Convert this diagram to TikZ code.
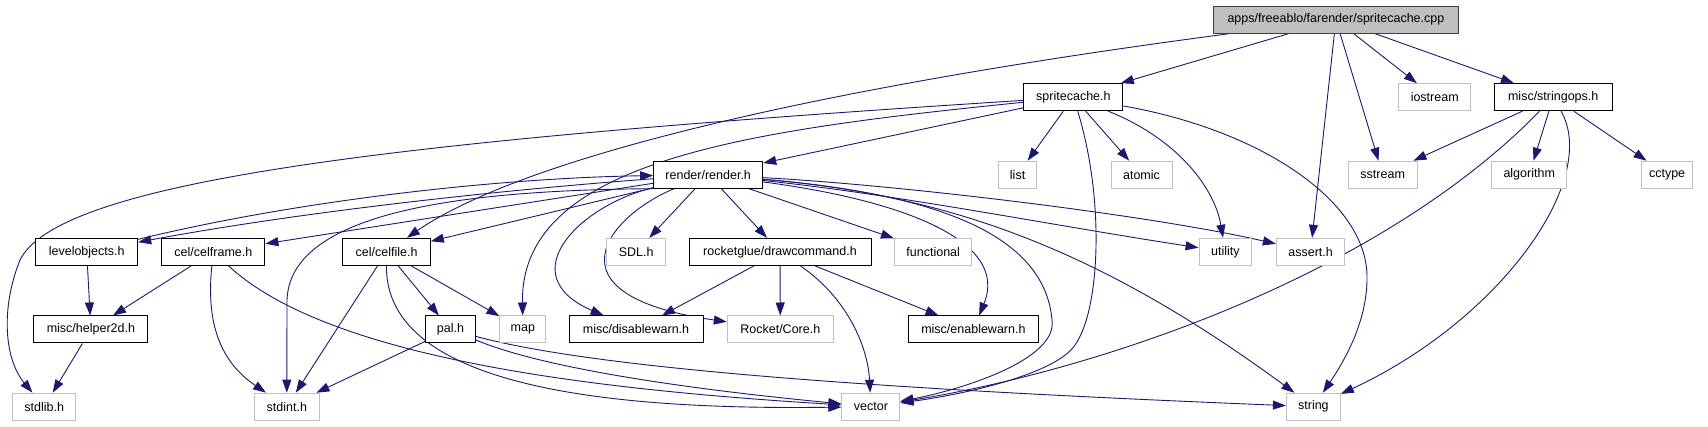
\documentclass[tikz,border=0pt]{standalone}
\usepackage{fontspec}
\setmainfont{Liberation Sans}
\usetikzlibrary{arrows.meta}
\pgfdeclarelayer{bg}
\pgfsetlayers{bg,main}
\definecolor{edgec}{HTML}{191970}
\definecolor{lgray}{HTML}{BFBFBF}
\definecolor{dgray}{HTML}{404040}
\begin{document}
\begin{tikzpicture}[x=1pt,y=-1pt,
  base/.style={rectangle, inner sep=0pt, minimum height=27pt, font=\fontsize{12.5}{14}\selectfont, line width=1pt},
  inc/.style={base, draw=black, fill=white},
  sys/.style={base, draw=lgray, fill=white},
  root/.style={base, draw=dgray, fill=lgray},
  edge/.style={draw=edgec, line width=0.9pt, -{Triangle[length=13pt,width=9pt]}}]
\useasboundingbox (0,0) rectangle (1708,427);
% nodes
\node[root, minimum width=245pt] (cpp) at (1335.9,19.7) {apps/freeablo/farender/spritecache.cpp};
\node[inc, minimum width=99pt] (sc) at (1073.4,97.2) {spritecache.h};
\node[sys, minimum width=72pt] (iostream) at (1434.7,97.2) {iostream};
\node[inc, minimum width=118pt] (strops) at (1553.2,97.2) {misc/stringops.h};
\node[inc, minimum width=109pt] (render) at (708.2,174.7) {render/render.h};
\node[sys, minimum width=38.5pt] (list) at (1017.6,174.7) {list};
\node[sys, minimum width=61pt] (atomic) at (1141.5,174.7) {atomic};
\node[sys, minimum width=69pt] (sstream) at (1382.7,174.7) {sstream};
\node[sys, minimum width=74.5pt] (algorithm) at (1529.2,174.7) {algorithm};
\node[sys, minimum width=51pt] (cctype) at (1667.1,174.7) {cctype};
\node[inc, minimum width=102pt] (levobj) at (86.7,251.8) {levelobjects.h};
\node[inc, minimum width=103pt] (celframe) at (213.4,251.8) {cel/celframe.h};
\node[inc, minimum width=87.5pt] (celfile) at (386.6,251.8) {cel/celfile.h};
\node[sys, minimum width=58.5pt] (sdl) at (636.2,251.8) {SDL.h};
\node[inc, minimum width=182pt] (drawcmd) at (780,251.8) {rocketglue/drawcommand.h};
\node[sys, minimum width=77.5pt] (functional) at (933.2,251.8) {functional};
\node[sys, minimum width=52.5pt] (utility) at (1225.3,251.8) {utility};
\node[sys, minimum width=68.5pt] (assert) at (1310.6,251.8) {assert.h};
\node[inc, minimum width=114pt] (helper) at (90.9,329.5) {misc/helper2d.h};
\node[inc, minimum width=50pt] (pal) at (450.4,329.5) {pal.h};
\node[sys, minimum width=46pt] (map) at (522.9,329.5) {map};
\node[inc, minimum width=134pt] (disw) at (636,329.5) {misc/disablewarn.h};
\node[sys, minimum width=106pt] (rcore) at (780.3,329.5) {Rocket/Core.h};
\node[inc, minimum width=130.5pt] (enw) at (973.4,329.5) {misc/enablewarn.h};
\node[sys, minimum width=63.5pt] (stdlib) at (44.2,406.7) {stdlib.h};
\node[sys, minimum width=64.5pt] (stdint) at (286.8,406.7) {stdint.h};
\node[sys, minimum width=58pt] (vector) at (870.9,406.7) {vector};
\node[sys, minimum width=54pt] (string) at (1313.4,406.7) {string};
% edges
\begin{pgfonlayer}{bg}
\draw[edge] (cpp) -- (sc);
\draw[edge] (cpp) .. controls (800,90) and (520,160) .. (celfile);
\draw[edge] (cpp) -- (assert);
\draw[edge] (cpp) -- (sstream);
\draw[edge] (cpp) -- (iostream);
\draw[edge] (cpp) -- (strops);
\draw[edge] (strops) -- (sstream);
\draw[edge] (strops) -- (algorithm);
\draw[edge] (strops) -- (cctype);
\draw[edge] (strops) .. controls (1380,275) and (1100,370) .. (vector);
\draw[edge] (strops) .. controls (1600,180) and (1500,320) .. (string);
\draw[edge] (sc) .. controls (400,140) and (60,180) .. (20,260) .. controls (0,310) and (5,360) .. (stdlib);
\draw[edge] (sc) .. controls (750,130) and (520,160) .. (map);
\draw[edge] (sc) -- (render);
\draw[edge] (sc) -- (list);
\draw[edge] (sc) -- (atomic);
\draw[edge] (sc) .. controls (1105,200) and (1100,310) .. (1075,345) .. controls (1055,375) and (960,395) .. (vector);
\draw[edge] (sc) .. controls (1180,140) and (1215,190) .. (utility);
\draw[edge] (sc) .. controls (1260,130) and (1365,200) .. (1367,275) .. controls (1368,320) and (1345,360) .. (string);
\draw[edge] (render) .. controls (500,190) and (300,212) .. (levobj);
\draw[edge] (levobj) .. controls (300,200) and (500,178) .. (render);
\draw[edge] (render) -- (celframe);
\draw[edge] (render) -- (celfile);
\draw[edge] (render.south west) .. controls (450,190) and (290,215) .. (287,300) -- (stdint);
\draw[edge] (render) -- (sdl);
\draw[edge] (render) -- (drawcmd);
\draw[edge] (render) -- (functional);
\draw[edge] (render) .. controls (580,205) and (510,275) .. (disw);
\draw[edge] (render) .. controls (610,215) and (540,295) .. (rcore);
\draw[edge] (render) .. controls (900,200) and (1010,240) .. (enw);
\draw[edge] (render) .. controls (950,195) and (1045,240) .. (1052,320) .. controls (1058,360) and (960,390) .. (vector);
\draw[edge] (render) .. controls (900,195) and (1050,225) .. (utility);
\draw[edge] (render) .. controls (900,185) and (1150,215) .. (assert);
\draw[edge] (render) .. controls (950,195) and (1100,250) .. (string);
\draw[edge] (pal) .. controls (600,370) and (900,390) .. (string);
\draw[edge] (pal) .. controls (560,375) and (750,395) .. (vector);
\draw[edge] (pal) -- (stdint);
\draw[edge] (celfile) -- (pal);
\draw[edge] (celfile) -- (map);
\draw[edge] (celfile) -- (stdint);
\draw[edge] (celfile) .. controls (385,390) and (620,410) .. (vector);
\draw[edge] (celframe) -- (helper);
\draw[edge] (celframe) .. controls (205,330) and (225,365) .. (stdint);
\draw[edge] (celframe) .. controls (330,360) and (600,390) .. (vector);
\draw[edge] (levobj) -- (helper);
\draw[edge] (helper) -- (stdlib);
\draw[edge] (drawcmd) -- (disw);
\draw[edge] (drawcmd) -- (rcore);
\draw[edge] (drawcmd) -- (enw);
\draw[edge] (drawcmd) .. controls (850,300) and (868,350) .. (vector);
\end{pgfonlayer}
\end{tikzpicture}
\end{document}
